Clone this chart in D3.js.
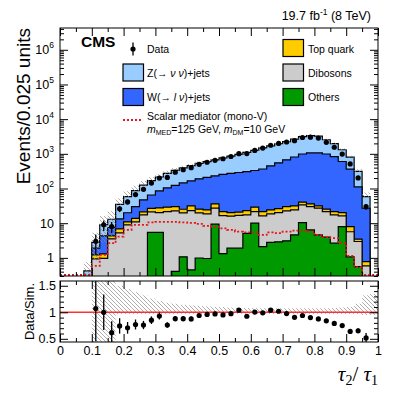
<!DOCTYPE html>
<html>
<head>
<meta charset="utf-8">
<script src="https://cdn.jsdelivr.net/npm/d3@7/dist/d3.min.js"></script>
<style>
body{margin:0;background:#fff;}
svg{font-family:"Liberation Sans",Arial,Helvetica,sans-serif;}
</style>
</head>
<body>
<svg id="chart" width="407" height="395"></svg>
<script>
// tau2/tau1 distribution, stacked backgrounds + data + ratio

var binLow = [0,0.025,0.05,0.075,0.1,0.125,0.15,0.175,0.2,0.225,0.25,0.275,0.3,0.325,0.35,0.375,0.4,0.425,0.45,0.475,
              0.5,0.525,0.55,0.575,0.6,0.625,0.65,0.675,0.7,0.725,0.75,0.775,0.8,0.825,0.85,0.875,0.9,0.925,0.95,0.975];
var binW = 0.025;

var others   = [0,0,0,0,0,0,0,0,0,0,0,5.4,5.4,0,0.41,1.07,0.45,0.99,0.96,9.4,1.33,1.9,1.9,5.1,10,2.1,2.8,2.9,3.1,4.6,10.4,6.4,4.6,3.95,2.65,8.0,1.07,0.56,0,0];
var dibosons = [0,0,0,0,0.94,0.97,3.53,5.25,8.9,10.9,17.3,15.8,14.8,21.6,22.2,18.7,22.6,18.8,17.5,17.7,15.3,14.0,14.9,12.2,11.6,14.1,15.7,17.3,19.5,19.6,23.3,23.7,22.5,17.65,14.65,8.2,4.6,2.4,0.59,0];
var topQuark = [0,0,0,0,0.28,0.33,0.77,1.6,2.0,2.8,3.9,5.5,7.4,7.3,7.5,5.5,8.4,5.5,5.7,8.9,5.0,4.3,4.1,5.8,7.3,5.4,5.7,6.2,7.5,7.3,6.6,5.9,4.4,3.7,4.3,4.0,2.3,0.5,0.19,0];
var wJets    = [0,0,0,0,0.68,3.0,3.2,6.45,9.1,16.3,25.8,38.3,57.4,75,93,120,134.5,164.7,186,194,233,252,269,283,302,344,424,524,640,778,950,1024,1028,965,808,580,352,107.5,26.2,0];
var zJets    = [0,0,0,0.42,0.9,4.7,5.5,21.7,38,57,78,103,130,171,212,250,289,340,385,440,505,588,680,794,919,1114,1252,1400,1580,1840,2160,2290,2190,1560,1130,710,440,199,31,0.2];
var signal   = [0,0,0,0,0.59,1.22,2.65,4.1,6.4,8.9,8.9,10.5,10.9,10.9,10.9,10.5,10.2,9.5,8.4,7.8,7.1,6.4,5.7,5.4,5.4,4.6,5.4,5.2,5.7,6.1,6.1,5.7,4.6,3.95,3.7,2.65,1.14,0.54,0,0];
var dataCounts = [0,0,0,0,3,9,8,26,41,67,95,143,200,209,295,348,398,498,571,650,722,838,1009,1018,1256,1465,1768,1989,2194,2398,2961,3015,2844,2142,1548,983,512,202,30,0];
// relative uncertainty of the simulation (hatched)
var uncUp   = [0,0,0,0.8,0.9,0.8,0.7,0.5,0.44,0.38,0.32,0.26,0.21,0.18,0.16,0.14,0.13,0.12,0.11,0.10,0.10,0.09,0.08,0.08,0.08,0.075,0.075,0.075,0.075,0.075,0.075,0.075,0.075,0.075,0.08,0.09,0.10,0.16,0.32,0.35];
var uncDown = [0,0,0,0.5,0.7,0.7,0.7,0.03,0.03,0.03,0.03,0.03,0.03,0.03,0.03,0.03,0.03,0.03,0.03,0.03,0.03,0.03,0.03,0.03,0.03,0.03,0.03,0.03,0.03,0.03,0.03,0.03,0.03,0.03,0.03,0.03,0.03,0.03,0.05,0.05];

var ratioMajor = [0.5, 1, 1.5];

var colors = {z:"#99ccff", w:"#3366ff", top:"#ffcc00", dib:"#cccccc", oth:"#009900", sig:"#e3161c"};

var svg = d3.select("#chart");
svg.append("rect").attr("width",407).attr("height",395).attr("fill","#fff");

var L=60, R=378, T=28, B=276, rT=281, rB=342;
var x = d3.scaleLinear().domain([0,1]).range([L,R]);
var y = d3.scaleLog().domain([0.3, 4.25e6]).range([B,T]);
var yr = d3.scaleLinear().domain([0.44,1.59]).range([rB,rT]);
function yv(v){ return v > 0.3 ? y(v) : B + 2; }

var rows = binLow.map(function(b,i){
	return {x:b, oth:others[i], dib:dibosons[i], top:topQuark[i], w:wJets[i], z:zJets[i]};
});
var stack = d3.stack().keys(["oth","dib","top","w","z"])(rows);
var totals = stack[4].map(function(d){ return d[1]; });

var defs = svg.append("defs");
defs.append("clipPath").attr("id","clipMain").append("rect").attr("x",L).attr("y",T).attr("width",R-L).attr("height",B-T);
defs.append("clipPath").attr("id","clipRatio").append("rect").attr("x",L).attr("y",rT).attr("width",R-L).attr("height",rB-rT);
var pat = defs.append("pattern").attr("id","hatch").attr("patternUnits","userSpaceOnUse").attr("width",4).attr("height",4);
pat.append("path").attr("d","M0,0L4,4M-1,3L1,5M3,-1L5,1").attr("stroke","#8a8a8a").attr("stroke-width",0.7);

function stepPath(vals, closed){
	var p = closed ? "M"+x(0)+","+(B+2) : "";
	vals.forEach(function(v,i){
		var yy = closed ? yv(v) : Math.min(yv(v), B-1);
		p += (p=="" ? "M" : "L") + x(binLow[i]) + "," + yy + "L" + x(binLow[i]+binW) + "," + yy;
	});
	if (closed) p += "L"+x(1)+","+(B+2)+"Z";
	return p;
}

// ---- main panel
var main = svg.append("g").attr("clip-path","url(#clipMain)");
var layerColors = [colors.oth, colors.dib, colors.top, colors.w, colors.z];
for (var k = 4; k >= 0; k--){
	main.append("path")
		.attr("d", stepPath(stack[k].map(function(d){ return d[1]; }), true))
		.attr("fill", layerColors[k]).attr("stroke","#000").attr("stroke-width",1.2);
}

main.selectAll(".unc").data(rows.filter(function(d,i){ return totals[i] > 0; })).enter()
	.append("rect").attr("class","unc")
	.attr("x", function(d){ return x(d.x); })
	.attr("width", x(binW)-x(0))
	.attr("y", function(d){ var i = rows.indexOf(d); return yv(totals[i]*(1+uncUp[i])); })
	.attr("height", function(d){ var i = rows.indexOf(d); return yv(totals[i]*(1-uncDown[i])) - yv(totals[i]*(1+uncUp[i])); })
	.attr("fill","url(#hatch)");

main.append("path").attr("d", stepPath(signal, false))
	.attr("fill","none").attr("stroke",colors.sig).attr("stroke-width",1.8).attr("stroke-dasharray","2,2");

var pts = rows.map(function(d,i){
	return {x:d.x+binW/2, n:dataCounts[i], tot:totals[i]};
}).filter(function(d){ return d.n > 0; });

main.selectAll(".err").data(pts).enter().append("line").attr("class","err")
	.attr("x1",function(d){ return x(d.x); }).attr("x2",function(d){ return x(d.x); })
	.attr("y1",function(d){ return yv(d.n+Math.sqrt(d.n)); })
	.attr("y2",function(d){ return yv(d.n-Math.sqrt(d.n)); })
	.attr("stroke","#000").attr("stroke-width",1.3);
main.selectAll(".pt").data(pts).enter().append("circle").attr("class","pt")
	.attr("cx",function(d){ return x(d.x); }).attr("cy",function(d){ return y(d.n); })
	.attr("r",2.6).attr("fill","#000");

// ---- ratio panel
var rat = svg.append("g").attr("clip-path","url(#clipRatio)");
rat.selectAll(".runc").data(rows.filter(function(d,i){ return totals[i] > 0 && d.x >= 0.1; })).enter()
	.append("rect").attr("class","runc")
	.attr("x", function(d){ return x(d.x); })
	.attr("width", x(binW)-x(0))
	.attr("y", function(d){ return yr(1+uncUp[rows.indexOf(d)]); })
	.attr("height", function(d){ var i = rows.indexOf(d); return yr(1-uncDown[i]) - yr(1+uncUp[i]); })
	.attr("fill","url(#hatch)");
rat.append("line").attr("x1",L).attr("x2",R).attr("y1",yr(1)).attr("y2",yr(1))
	.attr("stroke","#ff3030").attr("stroke-width",1.6);
rat.selectAll(".rerr").data(pts).enter().append("line").attr("class","rerr")
	.attr("x1",function(d){ return x(d.x); }).attr("x2",function(d){ return x(d.x); })
	.attr("y1",function(d){ var r=d.n/d.tot; return yr(r + r/Math.sqrt(d.n)); })
	.attr("y2",function(d){ var r=d.n/d.tot; return yr(r - r/Math.sqrt(d.n)); })
	.attr("stroke","#000").attr("stroke-width",1.3);
rat.selectAll(".rpt").data(pts).enter().append("circle").attr("class","rpt")
	.attr("cx",function(d){ return x(d.x); }).attr("cy",function(d){ return yr(d.n/d.tot); })
	.attr("r",2.6).attr("fill","#000");

// ---- frames and axes
svg.append("rect").attr("x",L).attr("y",T).attr("width",R-L).attr("height",B-T).attr("fill","none").attr("stroke","#000").attr("stroke-width",1);
svg.append("rect").attr("x",L).attr("y",rT).attr("width",R-L).attr("height",rB-rT).attr("fill","none").attr("stroke","#000").attr("stroke-width",1);

var yMajor = [1,10,100,1e3,1e4,1e5,1e6];
var yMinor = [];
[-1,0,1,2,3,4,5,6].forEach(function(e){
	for (var m = 2; m <= 9; m++){ var v = m*Math.pow(10,e); if (v >= 0.3 && v <= 4.25e6) yMinor.push(v); }
});
var xMajor = x.ticks(10);
var xMinor = x.ticks(20).filter(function(v){ return xMajor.indexOf(v) < 0; });
var rMinor = yr.ticks(12).filter(function(v){ return ratioMajor.indexOf(v) < 0; });

function addAxis(axis, tx, ty){
	var g = svg.append("g").attr("transform","translate("+tx+","+ty+")").call(axis);
	g.select(".domain").remove();
	g.selectAll(".tick line").attr("stroke","#000").attr("stroke-width",1);
	g.selectAll("text").attr("fill","#000").attr("font-size",12.5).attr("font-family","Liberation Sans, Arial, sans-serif");
	return g;
}
var fmt = d3.format("~g");

// main y
addAxis(d3.axisLeft(y).tickValues(yMinor).tickSize(-4).tickFormat(""), L, 0);
var gy = addAxis(d3.axisLeft(y).tickValues(yMajor).tickSize(-8).tickPadding(6).tickFormat(fmt), L, 0);
gy.selectAll(".tick text").each(function(d){
	var e = Math.round(Math.log10(d));
	if (e >= 2){
		var t = d3.select(this).text("10");
		t.append("tspan").attr("dy",-6).attr("font-size",8.5).text(e);
	}
});
addAxis(d3.axisRight(y).tickValues(yMinor).tickSize(-4).tickFormat(""), R, 0);
addAxis(d3.axisRight(y).tickValues(yMajor).tickSize(-8).tickFormat(""), R, 0);
// main x
addAxis(d3.axisBottom(x).tickValues(xMinor).tickSize(-4).tickFormat(""), 0, B);
addAxis(d3.axisBottom(x).tickValues(xMajor).tickSize(-8).tickFormat(""), 0, B);
addAxis(d3.axisTop(x).tickValues(xMinor).tickSize(-4).tickFormat(""), 0, T);
addAxis(d3.axisTop(x).tickValues(xMajor).tickSize(-8).tickFormat(""), 0, T);
// ratio
addAxis(d3.axisLeft(yr).tickValues(rMinor).tickSize(-4).tickFormat(""), L, 0);
addAxis(d3.axisLeft(yr).tickValues(ratioMajor).tickSize(-8).tickPadding(4).tickFormat(fmt), L, 0);
addAxis(d3.axisRight(yr).tickValues(rMinor).tickSize(-4).tickFormat(""), R, 0);
addAxis(d3.axisRight(yr).tickValues(ratioMajor).tickSize(-8).tickFormat(""), R, 0);
addAxis(d3.axisBottom(x).tickValues(xMinor).tickSize(-4).tickFormat(""), 0, rB);
var gx = addAxis(d3.axisBottom(x).tickValues(xMajor).tickSize(-8).tickPadding(4).tickFormat(fmt), 0, rB);
addAxis(d3.axisTop(x).tickValues(xMinor).tickSize(-4).tickFormat(""), 0, rT);
addAxis(d3.axisTop(x).tickValues(xMajor).tickSize(-8).tickFormat(""), 0, rT);

// ---- titles
svg.append("text").attr("transform","translate(30,"+T+") rotate(-90)").attr("text-anchor","end")
	.attr("font-size",19).text("Events/0.025 units");
svg.append("text").attr("transform","translate(34,"+((rT+rB)/2)+") rotate(-90)").attr("text-anchor","middle")
	.attr("font-size",13).text("Data/Sim.");
var xt = svg.append("text").attr("x",R).attr("y",381).attr("text-anchor","end")
	.attr("font-family","Liberation Serif, Times New Roman, serif").attr("font-size",21);
xt.append("tspan").attr("font-style","italic").text("τ");
xt.append("tspan").attr("font-size",14).attr("dy",4).text("2");
xt.append("tspan").attr("dy",-4).text("/");
xt.append("tspan").attr("font-style","italic").text(" τ");
xt.append("tspan").attr("font-size",14).attr("dy",4).text("1");

var lumi = svg.append("text").attr("x",371).attr("y",19.5).attr("text-anchor","end").attr("font-size",12.5);
lumi.append("tspan").text("19.7 fb");
lumi.append("tspan").attr("dy",-5).attr("font-size",8.5).text("-1");
lumi.append("tspan").attr("dy",5).text(" (8 TeV)");

svg.append("text").attr("x",81).attr("y",47).attr("font-size",15.5).attr("font-weight","bold").text("CMS");

// ---- legend
var leg = svg.append("g").attr("font-size",10.5);
leg.append("line").attr("x1",133).attr("x2",133).attr("y1",42.5).attr("y2",55.5).attr("stroke","#000").attr("stroke-width",1.3);
leg.append("circle").attr("cx",133).attr("cy",49).attr("r",2.6).attr("fill","#000");
leg.append("text").attr("x",147).attr("y",52.5).text("Data");

var boxes = [
	{x:123, y:64, c:colors.z}, {x:123, y:88.5, c:colors.w},
	{x:283, y:39.5, c:colors.top}, {x:283, y:64, c:colors.dib}, {x:283, y:88.5, c:colors.oth}
];
leg.selectAll(".box").data(boxes).enter().append("rect")
	.attr("x",function(d){ return d.x; }).attr("y",function(d){ return d.y; })
	.attr("width",20.5).attr("height",17).attr("fill",function(d){ return d.c; })
	.attr("stroke","#000").attr("stroke-width",1.2);

var tz = leg.append("text").attr("x",147).attr("y",76.5);
tz.append("tspan").text("Z(→ ");
tz.append("tspan").attr("font-style","italic").text("ν ν");
tz.append("tspan").text(")+jets");
var tw = leg.append("text").attr("x",147).attr("y",101);
tw.append("tspan").text("W(→ ");
tw.append("tspan").attr("font-style","italic").text("l ν");
tw.append("tspan").text(")+jets");
leg.append("text").attr("x",308).attr("y",52.5).text("Top quark");
leg.append("text").attr("x",308).attr("y",76.5).text("Dibosons");
leg.append("text").attr("x",308).attr("y",101).text("Others");

leg.append("line").attr("x1",123).attr("x2",143).attr("y1",120).attr("y2",120)
	.attr("stroke",colors.sig).attr("stroke-width",1.8).attr("stroke-dasharray","2,2");
leg.append("text").attr("x",147).attr("y",119.5).text("Scalar mediator (mono-V)");
var tm = leg.append("text").attr("x",147).attr("y",132.5);
tm.append("tspan").attr("font-style","italic").text("m");
tm.append("tspan").attr("font-size",7).attr("dy",2.5).text("MED");
tm.append("tspan").attr("dy",-2.5).text("=125 GeV, ");
tm.append("tspan").attr("font-style","italic").text("m");
tm.append("tspan").attr("font-size",7).attr("dy",2.5).text("DM");
tm.append("tspan").attr("dy",-2.5).text("=10 GeV");
</script>
</body>
</html>
